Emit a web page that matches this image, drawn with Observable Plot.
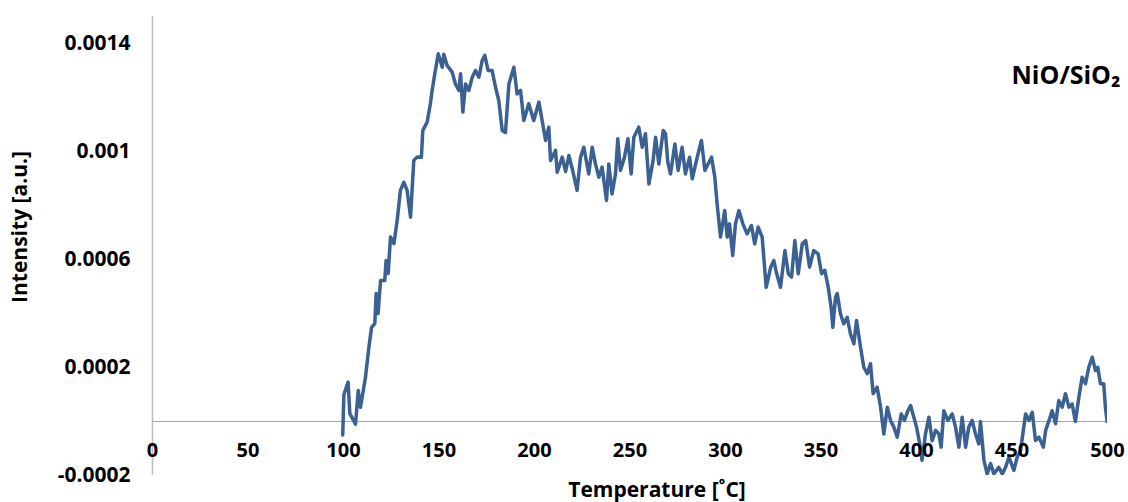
<!DOCTYPE html>
<html>
<head>
<meta charset="utf-8">
<script src="https://cdn.jsdelivr.net/npm/d3@7"></script>
<script src="https://cdn.jsdelivr.net/npm/@observablehq/plot@0.6"></script>
<style>
  html, body { margin: 0; padding: 0; background: #ffffff; }
</style>
</head>
<body>
<div id="chart"></div>
<script>
const temperature = [
  99.6, 100.2, 102.4, 103.3, 106.3, 107.7, 108.9, 111.5, 113.3, 114.7,
  116.4, 117.1, 118.1, 119.4, 121.6, 122.3, 123.4, 124.6, 126.4, 128.1,
  129.8, 131.6, 133.3, 135.1, 136.8, 138.6, 140.8, 141.5, 143.8, 145.5,
  146.4, 147.8, 149.6, 151.7, 152.5, 154.3, 156.9, 158.6, 160.4, 161.3,
  162.5, 163.9, 165.6, 167.4, 169.1, 170.9, 172.6, 174.0, 175.7, 177.8,
  179.6, 181.3, 183.1, 184.8, 186.6, 189.2, 190.9, 192.7, 194.4, 197.0,
  199.6, 202.3, 204.0, 205.8, 207.5, 208.4, 211.0, 211.9, 214.5, 216.3,
  218.0, 219.7, 222.3, 224.1, 225.8, 228.4, 230.2, 231.9, 233.7, 235.4,
  237.7, 238.9, 240.6, 242.4, 243.6, 245.0, 247.1, 248.9, 250.6, 252.0,
  254.6, 256.4, 258.1, 259.9, 262.1, 263.4, 265.1, 267.4, 268.6, 269.8,
  271.2, 273.5, 275.2, 277.3, 279.0, 281.2, 282.6, 285.2, 287.4, 289.2,
  290.9, 292.7, 294.4, 295.6, 297.4, 299.6, 300.9, 302.1, 303.8, 305.2,
  307.0, 309.1, 311.3, 313.6, 315.3, 317.1, 319.2, 321.3, 323.6, 325.3,
  326.8, 328.8, 331.1, 332.9, 334.6, 336.3, 338.1, 340.2, 342.0, 344.0,
  346.2, 348.5, 350.3, 352.0, 353.8, 355.3, 356.2, 357.6, 358.5, 360.2,
  361.9, 363.7, 365.4, 367.2, 368.6, 370.7, 372.4, 374.2, 375.9, 377.3,
  379.4, 381.2, 382.9, 384.7, 386.4, 388.1, 389.9, 392.0, 393.7, 395.5,
  396.9, 398.6, 400.0, 401.7, 402.9, 404.7, 406.5, 408.2, 410.0, 411.7,
  412.9, 414.3, 416.4, 418.7, 420.4, 422.2, 423.9, 425.7, 427.4, 429.1,
  430.9, 432.6, 433.5, 435.3, 437.0, 438.8, 440.5, 443.1, 444.9, 446.6,
  448.4, 451.0, 452.7, 454.5, 457.1, 458.9, 460.6, 462.3, 464.1, 466.4,
  467.6, 469.4, 471.0, 472.8, 474.5, 476.3, 478.0, 479.8, 481.5, 483.2,
  485.0, 486.7, 488.5, 490.2, 492.0, 493.7, 494.9, 496.3, 498.0, 498.9,
  499.8
];
const intensity = [
  -0.000050, 0.000100, 0.000146, 0.000030, -0.000010, 0.000115, 0.000053, 0.000164, 0.000275, 0.000349,
  0.000363, 0.000474, 0.000400, 0.000522, 0.000522, 0.000596, 0.000548, 0.000683, 0.000659, 0.000744,
  0.000856, 0.000886, 0.000856, 0.000757, 0.000967, 0.000980, 0.000979, 0.001078, 0.001109, 0.001178,
  0.001226, 0.001288, 0.001362, 0.001312, 0.001360, 0.001318, 0.001294, 0.001250, 0.001226, 0.001288,
  0.001146, 0.001250, 0.001226, 0.001275, 0.001300, 0.001275, 0.001337, 0.001356, 0.001300, 0.001300,
  0.001238, 0.001189, 0.001078, 0.001070, 0.001250, 0.001312, 0.001213, 0.001226, 0.001115, 0.001177,
  0.001115, 0.001183, 0.001115, 0.001041, 0.001090, 0.000967, 0.001004, 0.000923, 0.000979, 0.000926,
  0.000985, 0.000938, 0.000856, 0.000979, 0.001016, 0.000917, 0.001016, 0.000954, 0.000905, 0.000942,
  0.000819, 0.000954, 0.000843, 0.000917, 0.001047, 0.000930, 0.000979, 0.001047, 0.000917, 0.001053,
  0.001090, 0.001016, 0.001066, 0.000880, 0.000967, 0.001053, 0.000954, 0.001078, 0.001066, 0.000960,
  0.000917, 0.001028, 0.000930, 0.001016, 0.000917, 0.000979, 0.000899, 0.000979, 0.001041, 0.000930,
  0.000954, 0.000979, 0.000905, 0.000806, 0.000683, 0.000781, 0.000683, 0.000732, 0.000615, 0.000732,
  0.000781, 0.000732, 0.000695, 0.000726, 0.000658, 0.000720, 0.000683, 0.000497, 0.000570, 0.000596,
  0.000547, 0.000497, 0.000633, 0.000547, 0.000535, 0.000670, 0.000547, 0.000658, 0.000670, 0.000572,
  0.000633, 0.000621, 0.000547, 0.000560, 0.000497, 0.000423, 0.000349, 0.000460, 0.000474, 0.000399,
  0.000362, 0.000386, 0.000325, 0.000288, 0.000374, 0.000275, 0.000201, 0.000177, 0.000214, 0.000103,
  0.000127, 0.000053, -0.000046, 0.000053, 0.000004, -0.000020, -0.000058, 0.000028, 0.000004, 0.000040,
  0.000059, 0.000016, -0.000020, -0.000083, -0.000144, -0.000046, 0.000016, -0.000071, -0.000033, -0.000046,
  -0.000095, 0.000040, 0.000004, 0.000028, -0.000020, -0.000095, 0.000016, -0.000095, -0.000020, 0.000004,
  -0.000046, -0.000083, 0.000000, -0.000144, -0.000194, -0.000156, -0.000194, -0.000170, -0.000194, -0.000170,
  -0.000132, -0.000181, -0.000132, -0.000107, 0.000028, 0.000004, 0.000034, -0.000070, -0.000058, -0.000095,
  -0.000033, 0.000004, 0.000040, -0.000008, 0.000078, 0.000053, 0.000103, 0.000053, 0.000065, 0.000000,
  0.000090, 0.000164, 0.000140, 0.000201, 0.000238, 0.000189, 0.000201, 0.000140, 0.000140, 0.000053,
  0.000000
];
const xTicks = [0, 50, 100, 150, 200, 250, 300, 350, 400, 450, 500];
const yTicks = [-0.0002, 0.0002, 0.0006, 0.001, 0.0014];
const xLabel = "Temperature [˚C]";
const yLabel = "Intensity [a.u.]";
const seriesName = "NiO/SiO₂";

const data = temperature.map((t, i) => ({T: t, I: intensity[i]}));

const font = "'Open Sans', 'DejaVu Sans', sans-serif";

const chart = Plot.plot({
  width: 1128,
  height: 502,
  marginLeft: 152,
  marginRight: 21,
  marginTop: 16,
  marginBottom: 27,
  style: {fontFamily: font, fontSize: "20px", fontWeight: "bold", color: "#000", background: "#fff"},
  x: {domain: [0, 500], axis: null},
  y: {domain: [-0.0002, 0.0015]},
  marks: [
    Plot.ruleX([0], {stroke: "#bdbdbd", strokeWidth: 1.5}),
    Plot.ruleY([0], {stroke: "#a6a6a6", strokeWidth: 1}),
    Plot.line(data, {x: "T", y: "I", stroke: "#3a6192", strokeWidth: 3.5, strokeLinejoin: "round", clip: true}),
    Plot.axisY(yTicks, {tickSize: 0, tickPadding: 22, tickFormat: d => String(d), label: null, fontSize: 21, fontWeight: "bold", fill: "#000"}),
    Plot.text(xTicks, {x: d => d, y: 0, dy: 29, text: d => String(d), fontSize: 20, fontWeight: "bold", fill: "#000"}),
    Plot.text([xLabel], {frameAnchor: "bottom", dx: 27, dy: 15, lineAnchor: "middle", fontSize: 21, fontWeight: "bold", fill: "#000"}),
    Plot.text([yLabel], {frameAnchor: "left", textAnchor: "middle", rotate: -90, dx: -132, dy: -19, lineAnchor: "middle", fontSize: 21, fontWeight: "bold", fill: "#000"}),
    Plot.text([seriesName], {frameAnchor: "top-right", textAnchor: "end", lineAnchor: "middle", dx: 13, dy: 59, fontSize: 25, fontWeight: "bold", fill: "#000"})
  ]
});
document.getElementById("chart").appendChild(chart);
</script>
</body>
</html>
